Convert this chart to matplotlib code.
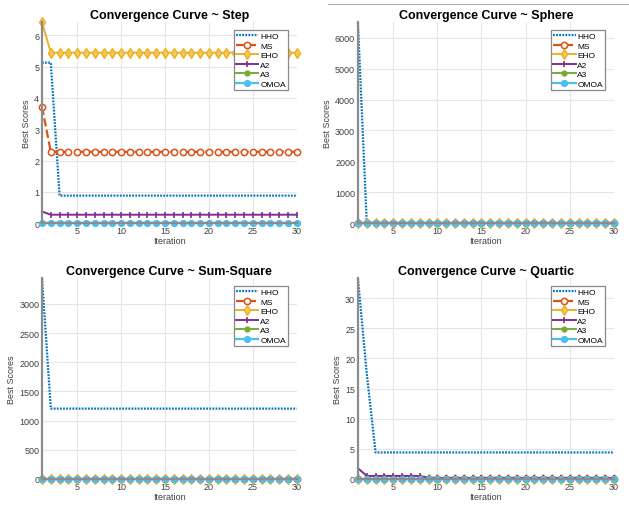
import numpy as np
import matplotlib
matplotlib.use('Agg')
import matplotlib.pyplot as plt
from matplotlib.lines import Line2D

plt.rcParams['font.family'] = ['Liberation Sans', 'DejaVu Sans']

iters = np.arange(1, 31)

# best score per iteration for each benchmark function
step_hho = [5.13, 5.13] + [0.88] * 28
step_ms = [3.72] + [2.28] * 29
step_eho = [6.42] + [5.45] * 29
step_a2 = [0.37] + [0.27] * 29
step_a3 = [0.0] * 30
step_omoa = [0.0] * 30

sphere_hho = [6500, 40] + [0.0] * 28
sphere_ms = [0.0] * 30
sphere_eho = [0.0] * 30
sphere_a2 = [0.0] * 30
sphere_a3 = [0.0] * 30
sphere_omoa = [0.0] * 30

sumsq_hho = [3440] + [1205] * 29
sumsq_ms = [0.0] * 30
sumsq_eho = [0.0] * 30
sumsq_a2 = [0.0] * 30
sumsq_a3 = [0.0] * 30
sumsq_omoa = [0.0] * 30

quartic_hho = [33.3, 17.5] + [4.4] * 28
quartic_ms = [0.0] * 30
quartic_eho = [0.0] * 30
quartic_a2 = [1.8] + [0.5] * 7 + [0.2] * 22
quartic_a3 = [0.0] * 30
quartic_omoa = [0.0] * 30

panels = [
    ("Step", [step_hho, step_ms, step_eho, step_a2, step_a3, step_omoa], 6.42, [0, 1, 2, 3, 4, 5, 6]),
    ("Sphere", [sphere_hho, sphere_ms, sphere_eho, sphere_a2, sphere_a3, sphere_omoa], 6500, [0, 1000, 2000, 3000, 4000, 5000, 6000]),
    ("Sum-Square", [sumsq_hho, sumsq_ms, sumsq_eho, sumsq_a2, sumsq_a3, sumsq_omoa], 3440, [0, 500, 1000, 1500, 2000, 2500, 3000]),
    ("Quartic", [quartic_hho, quartic_ms, quartic_eho, quartic_a2, quartic_a3, quartic_omoa], 33.3, [0, 5, 10, 15, 20, 25, 30]),
]

names = ["HHO", "MS", "EHO", "A2", "A3", "OMOA"]
styles = [
    dict(color='#0072BD', linestyle=(0, (0.8, 0.6)), linewidth=1.6),
    dict(color='#D95319', linestyle='--', linewidth=1.6, marker='o', markersize=4.5,
         markerfacecolor='white', markeredgewidth=1.1),
    dict(color='#EDB120', linestyle='-', linewidth=1.4, marker='d', markersize=5.5,
         markerfacecolor='#F3C860', markeredgewidth=1.0),
    dict(color='#7E2F8E', linestyle='-', linewidth=1.4, marker='|', markersize=5,
         markeredgewidth=1.2),
    dict(color='#77AC30', linestyle='-', linewidth=1.4, marker='o', markersize=3.5),
    dict(color='#4DBEEE', linestyle='-', linewidth=1.6, marker='o', markersize=4.2),
]

fig = plt.figure(figsize=(6.29, 5.06), dpi=100)
positions = [
    [0.0668, 0.557, 0.405, 0.397],
    [0.569, 0.557, 0.407, 0.397],
    [0.0668, 0.0514, 0.405, 0.397],
    [0.569, 0.0514, 0.407, 0.397],
]

for pos, (fname, series, ymax, yticks) in zip(positions, panels):
    ax = fig.add_axes(pos)
    for vals, name, st in zip(series, names, styles):
        ax.plot(iters, vals, label=name, clip_on=False, **st)
    ax.set_xlim(1, 30)
    ax.set_ylim(0, ymax)
    ax.set_xticks([5, 10, 15, 20, 25, 30])
    ax.set_yticks(yticks)
    ax.grid(True, color='#e6e6e6', linewidth=0.8)
    ax.set_axisbelow(True)
    for s in ['top', 'right']:
        ax.spines[s].set_visible(False)
    for s in ['left', 'bottom']:
        ax.spines[s].set_color('#8c8c8c')
        ax.spines[s].set_linewidth(1.6)
    ax.tick_params(length=0, labelsize=6.5, colors='#404040', pad=2)
    ax.set_title(f"Convergence Curve ~ {fname}", fontsize=9, fontweight='bold', pad=3)
    ax.set_xlabel("Iteration", fontsize=6.5, color='#404040', labelpad=1)
    ax.set_ylabel("Best Scores", fontsize=6.5, color='#404040', labelpad=2)
    leg = ax.legend(loc='upper right', fontsize=6, handlelength=2.7, handletextpad=0.2,
                    labelspacing=0.2, borderpad=0.25, borderaxespad=0, fancybox=False,
                    framealpha=1, bbox_to_anchor=(0.965, 0.96))
    leg.get_frame().set_edgecolor('#888888')
    leg.get_frame().set_linewidth(0.9)

# thin rule along the top of the right column
fig.add_artist(Line2D([328 / 629, 1.0], [1 - 5 / 506, 1 - 5 / 506], color='#b0b0b0', linewidth=0.8))

fig.savefig("out.png", dpi=100)
